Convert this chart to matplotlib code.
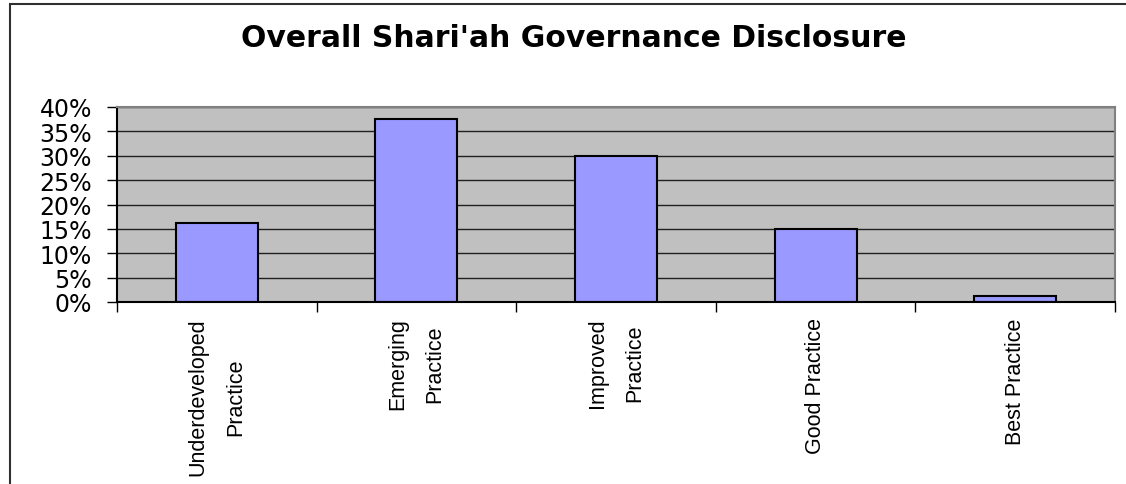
import matplotlib
matplotlib.use("Agg")
import matplotlib.pyplot as plt
from matplotlib.patches import Rectangle
from matplotlib.ticker import FixedLocator, FuncFormatter
import numpy as np

# share of banks in each disclosure band
categories = ["Underdeveloped\nPractice", "Emerging\nPractice", "Improved\nPractice",
              "Good Practice", "Best Practice"]
shares = [16.25, 37.5, 30.0, 15.0, 1.25]
y_ticks = [0, 5, 10, 15, 20, 25, 30, 35, 40]

BAR = "#9999ff"
PLOT_BG = "#c0c0c0"

fig = plt.figure(figsize=(11.26, 4.85), dpi=100)
ax = fig.add_axes([117 / 1126, 1 - 303 / 485, (1115 - 117) / 1126, (303 - 108) / 485])
ax.set_facecolor(PLOT_BG)

x = np.arange(len(categories))
ax.bar(x, shares, width=0.41, color=BAR, edgecolor="black", linewidth=1.5, zorder=3)

ax.set_xlim(-0.5, len(categories) - 0.5)
ax.set_ylim(0, 40)
ax.set_yticks(y_ticks)
ax.yaxis.set_major_formatter(FuncFormatter(lambda v, _: f"{v:.0f}%"))
ax.grid(axis="y", color="#202020", linewidth=1.0, zorder=1)

ax.set_xticks(x)
ax.set_xticklabels(categories, rotation=90, multialignment="center",
                   family="Liberation Sans", fontsize=15.5, linespacing=2.0)
ax.xaxis.set_minor_locator(FixedLocator(np.arange(len(categories) + 1) - 0.5))
ax.tick_params(axis="x", which="major", length=0, pad=11)
ax.tick_params(axis="x", which="minor", length=7, width=1, color="black", direction="out")
ax.tick_params(axis="y", length=7, width=1, color="black", direction="out", pad=11,
               labelsize=17)
for lab in ax.get_yticklabels():
    lab.set_family("DejaVu Sans")

ax.spines["left"].set_color("black")
ax.spines["bottom"].set_color("black")
ax.spines["top"].set_color("#808080")
ax.spines["right"].set_color("#808080")
for s in ax.spines.values():
    s.set_linewidth(1.5)
    s.set_zorder(4)

fig.text(574 / 1126, 1 - 47 / 485, "Overall Shari'ah Governance Disclosure",
         ha="center", va="baseline", fontsize=21.5, fontweight="bold",
         family="DejaVu Sans")

# chart-area border (only top and left edges show in the crop)
fig.patches.append(Rectangle((9.5 / 1126, -0.1), 1.2, 1 - 5 / 485 + 0.1,
                             transform=fig.transFigure, fill=False,
                             edgecolor="#303030", linewidth=1.5))

fig.savefig("out.png", dpi=100)
